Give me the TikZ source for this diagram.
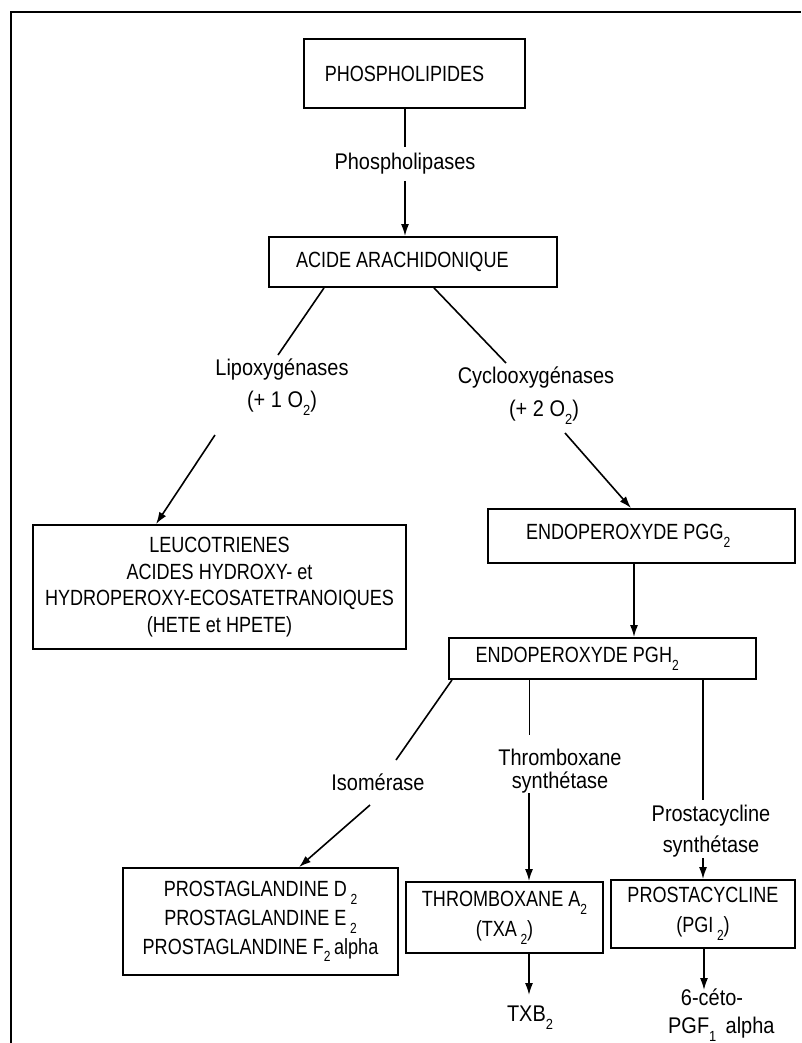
\documentclass[tikz,border=0pt]{standalone}
\usepackage{fontspec}
\usetikzlibrary{arrows.meta}
\newfontfamily\bxf[FakeStretch=0.82]{Liberation Sans}
\newfontfamily\lbf[FakeStretch=0.88]{Liberation Sans}
\newcommand\sbs[1]{\raisebox{-0.35em}{\fontsize{11}{11}\selectfont #1}}
\begin{document}
\begin{tikzpicture}[x=0.75pt,y=-0.75pt,
  box/.style={draw, line width=1.4pt, inner sep=0pt, align=center, font=\bxf\fontsize{16.5}{21.5}\selectfont},
  lab/.style={inner sep=0pt, align=center, font=\lbf\fontsize{17}{24}\selectfont},
  conn/.style={line width=1.2pt},
  thin/.style={line width=0.7pt},
  thick/.style={line width=2pt},
  arr/.style={line width=1.2pt, -{Latex[length=9pt,width=6pt]}}]
\useasboundingbox (0,0) rectangle (801,1043);
% frame
\draw[line width=2.2pt] (11,1043) -- (11,12) -- (801,12);

% boxes
\node[box, minimum width=221*0.75pt, minimum height=69*0.75pt] (phos) at (414.5,73.5) {PHOSPHOLIPIDES\hspace{15pt}};
\node[box, minimum width=288*0.75pt, minimum height=50*0.75pt] (acide) at (413,262) {ACIDE ARACHIDONIQUE\hspace{16pt}};
\node[box, minimum width=373*0.75pt, minimum height=124*0.75pt, font=\bxf\fontsize{16.5}{20}\selectfont] (leuco) at (219.5,587) {LEUCOTRIENES\\ACIDES HYDROXY- et\\HYDROPEROXY-ECOSATETRANOIQUES\\(HETE et HPETE)};
\node[box, minimum width=307*0.75pt, minimum height=54*0.75pt] (pgg) at (641.5,536) {ENDOPEROXYDE PGG\sbs{2}\hspace{20pt}};
\node[box, minimum width=307*0.75pt, minimum height=41*0.75pt] (pgh) at (602.5,658.5) {ENDOPEROXYDE PGH\sbs{2}\hspace{38pt}};
\node[box, minimum width=275*0.75pt, minimum height=107*0.75pt] (pros) at (260.5,921.5) {PROSTAGLANDINE D\,\sbs{2}\\PROSTAGLANDINE E\,\sbs{2}\\PROSTAGLANDINE F\sbs{2}\,alpha};
\node[box, minimum width=197*0.75pt, minimum height=71*0.75pt, font=\bxf\fontsize{16.5}{22.5}\selectfont] (thx) at (504.5,917.5) {THROMBOXANE A\sbs{2}\\(TXA\,\sbs{2})};
\node[box, minimum width=184*0.75pt, minimum height=68*0.75pt, font=\bxf\fontsize{16.5}{22.5}\selectfont] (pcy) at (703,914) {PROSTACYCLINE\\(PGI\,\sbs{2})};

% labels
\node[lab, inner ysep=4.5pt] (plab) at (405,164) {Phospholipases};
\node[lab] (lipo) at (282,387) {Lipoxygénases\\(+ 1 O\sbs{2})};
\node[lab, font=\lbf\fontsize{17}{24.75}\selectfont] (cyclo) at (536,395.5) {Cyclooxygénases\\\hspace{12pt}(+ 2 O\sbs{2})};
\node[lab] (iso) at (378,782) {Isomérase};
\node[lab, font=\lbf\fontsize{17}{17}\selectfont] (thrl) at (560,771) {Thromboxane\\synthétase};
\node[lab, font=\lbf\fontsize{17}{23}\selectfont] (pcl) at (711,831) {Prostacycline\\synthétase};
\node[lab] (txb) at (530,1018) {TXB\sbs{2}};
\node[lab, font=\lbf\fontsize{17}{21}\selectfont] (ceto) at (712,1015) {6-céto-\\\hspace{14pt}PGF\sbs{1}\, alpha};

% free ends
\coordinate (lipoA) at (278,355);
\coordinate (lipoB) at (215,435);
\coordinate (cycA) at (506,363);
\coordinate (cycB) at (565,433);
\coordinate (isoA) at (396,760);
\coordinate (isoB) at (370,805);
\coordinate (thrA) at (529,735);
\coordinate (thrB) at (529,793);
\coordinate (pcA) at (703,800);
\coordinate (pcB) at (703,858);
\coordinate (txbA) at (529,995);
\coordinate (cetoA) at (704,990);

% connectors
\draw[conn] (phos.south -| plab) -- (plab.north);
\draw[arr] (plab.south) -- (acide.north -| plab);
\draw[conn] (acide.south -| 324,0) -- (lipoA);
\draw[arr] (lipoB) -- (leuco.north -| 156,0);
\draw[conn] (acide.south -| 434,0) -- (cycA);
\draw[arr] (cycB) -- (pgg.north -| 631,0);
\draw[arr] (pgg.south -| 634,0) -- (pgh.north -| 634,0);
\draw[conn] (pgh.south -| 452,0) -- (isoA);
\draw[arr] (isoB) -- (pros.north -| 299,0);
\draw[thin] (pgh.south -| thrA) -- (thrA);
\draw[arr] (thrB) -- (thx.north -| thrB);
\draw[thick] (pgh.south -| pcA) -- (pcA);
\draw[arr] (pcB) -- (pcy.north -| pcB);
\draw[arr] (thx.south -| txbA) -- (txbA);
\draw[arr] (pcy.south -| cetoA) -- (cetoA);
\end{tikzpicture}
\end{document}
